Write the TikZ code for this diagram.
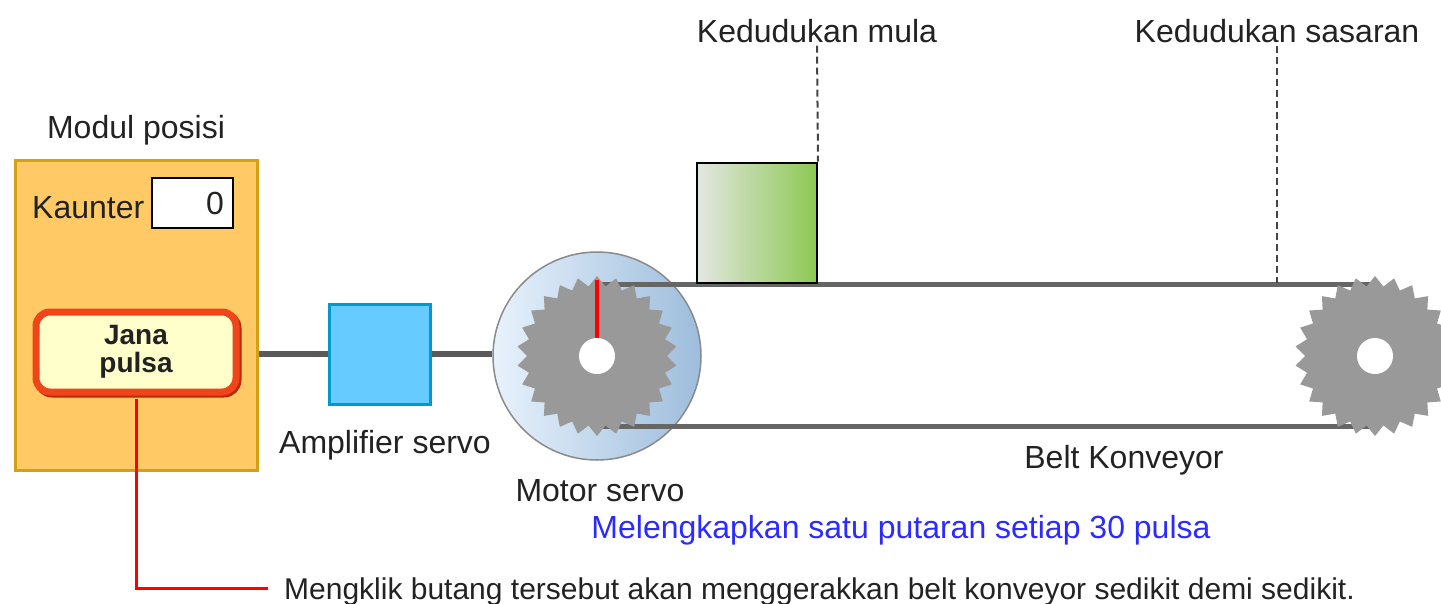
\documentclass[tikz,border=0pt]{standalone}
\usepackage{fontspec}
\setmainfont{Liberation Sans}
\usetikzlibrary{calc}

\definecolor{ink}{HTML}{222222}
\definecolor{modfill}{HTML}{FFC966}
\definecolor{modline}{HTML}{D4A017}
\definecolor{btnline}{HTML}{F0441A}
\definecolor{btnshadow}{HTML}{B82A00}
\definecolor{btnfill}{HTML}{FFFFCC}
\definecolor{ampfill}{HTML}{66CCFF}
\definecolor{ampline}{HTML}{0099CC}
\definecolor{motorL}{HTML}{E8F2FC}
\definecolor{motorR}{HTML}{9DBDDC}
\definecolor{motorline}{HTML}{8A8A8A}
\definecolor{boxL}{HTML}{E4E6E2}
\definecolor{boxR}{HTML}{8CC852}
\definecolor{gearcol}{HTML}{999999}
\definecolor{beltcol}{HTML}{666666}
\definecolor{wirecol}{HTML}{5A5A5A}
\definecolor{guidecol}{HTML}{444444}
\definecolor{bluetxt}{HTML}{2B2BFF}

\newcommand\labelsize{\fontsize{32}{38}\selectfont}
\newcommand\notesize{\fontsize{30}{36}\selectfont}
\newcommand\buttonsize{\fontsize{28}{28}\selectfont\bfseries}

% toothed wheel with a white hub, centred on a named coordinate
\newcommand\drawgear[1]{%
  \begin{scope}[shift={(#1)}]
    \fill[gearcol] (90:80) \foreach \i in {1,...,51} {-- ({90+360/52*\i}:{ifthenelse(isodd(\i),70,80)})} -- cycle;
    \fill[white] (0,0) circle[radius=18];
  \end{scope}}

\begin{document}
\begin{tikzpicture}[x=1pt, y=-1pt,
  lbl/.style={font=\labelsize, text=ink, inner sep=0pt},
  modbox/.style={draw=modline, fill=modfill, line width=3pt, inner sep=0pt},
  cntbox/.style={draw=black, fill=white, line width=1.5pt, font=\labelsize, text=ink,
    text width=63pt, inner xsep=9pt, inner ysep=0pt, align=right, minimum height=50pt},
  btnbox/.style={draw=btnline, fill=btnfill, line width=7pt, rounded corners=14pt,
    minimum width=200pt, minimum height=80pt, align=center, font=\buttonsize, text=ink},
  ampbox/.style={draw=ampline, fill=ampfill, line width=3pt, minimum width=101pt, minimum height=100pt},
  motorbody/.style={circle, draw=motorline, line width=1.5pt, left color=motorL, right color=motorR,
    minimum size=208pt, inner sep=0pt},
  loadbox/.style={draw=black, line width=2pt, left color=boxL, right color=boxR,
    minimum width=120pt, minimum height=120pt},
  wire/.style={wirecol, line width=5.5pt},
  belt/.style={beltcol, line width=5pt},
  guide/.style={guidecol, line width=2pt, dash pattern=on 7pt off 4pt},
  redwire/.style={red, line width=3pt}]

\useasboundingbox (0,0) rectangle (1441,603);

% positioning module
\node[lbl, anchor=base] (modtitle) at (136,138) {Modul posisi};
\node[modbox, minimum width=242pt, minimum height=310pt] (module) at (136,315) {};
\node[lbl, anchor=base west] (cntlabel) at (32,218) {Kaunter};
\node[cntbox] (counter) at (192.5,203) {0};

% pulse button with its drop shadow
\draw[btnshadow, line width=7pt, rounded corners=14pt] (38,314) rectangle (238,394);
\node[btnbox] (btn) at (136,352) {Jana\\pulsa};

% servo amplifier and wiring
\node[ampbox] (amp) at (380,354) {};
\draw[wire] (module.east |- amp.west) -- (amp.west);

% servo motor
\node[motorbody] (motor) at (597,356) {};
\draw[wire] (amp.east) -- (amp.east -| motor.west);

% conveyor belt between the two wheels
\coordinate (g1) at (597,356);
\coordinate (g2) at (1375,356);
\draw[belt] ($(g1)+(0,-72)$) -- ($(g2)+(0,-72)$);
\draw[belt] ($(g1)+(0,70)$) -- ($(g2)+(0,70)$);
\drawgear{g1}
\drawgear{g2}
\draw[red, line width=4pt] ($(g1)+(0,-76)$) -- ($(g1)+(0,-18)$);

% load on the belt and position markers
\node[loadbox] (load) at (757,222.5) {};
\node[lbl, anchor=base, inner sep=3pt] (lstart) at (817,42) {Kedudukan mula};
\node[lbl, anchor=base, inner sep=3pt] (ltarget) at (1277,42) {Kedudukan sasaran};
\coordinate (target) at (1277,283);
\draw[guide] (lstart.south) -- (load.north east);
\draw[guide] (ltarget.south) -- (target);

% captions
\node[lbl, anchor=base] (ampcap) at (385,453) {Amplifier servo};
\node[lbl, anchor=base] (motorcap) at (600,501) {Motor servo};
\node[lbl, anchor=base] (beltcap) at (1124,468) {Belt Konveyor};
\node[lbl, anchor=base, text=bluetxt] (turncap) at (901,538) {Melengkapkan satu putaran setiap 30 pulsa};

% note on the button
\node[lbl, font=\notesize, anchor=base west] (note) at (284,599) {Mengklik butang tersebut akan menggerakkan belt konveyor sedikit demi sedikit.};
\coordinate (bend) at (136,588);
\coordinate (noteend) at (268,588);
\draw[redwire, shorten <=3.5pt] (btn.south) -- (bend) -- (noteend);
\end{tikzpicture}
\end{document}
